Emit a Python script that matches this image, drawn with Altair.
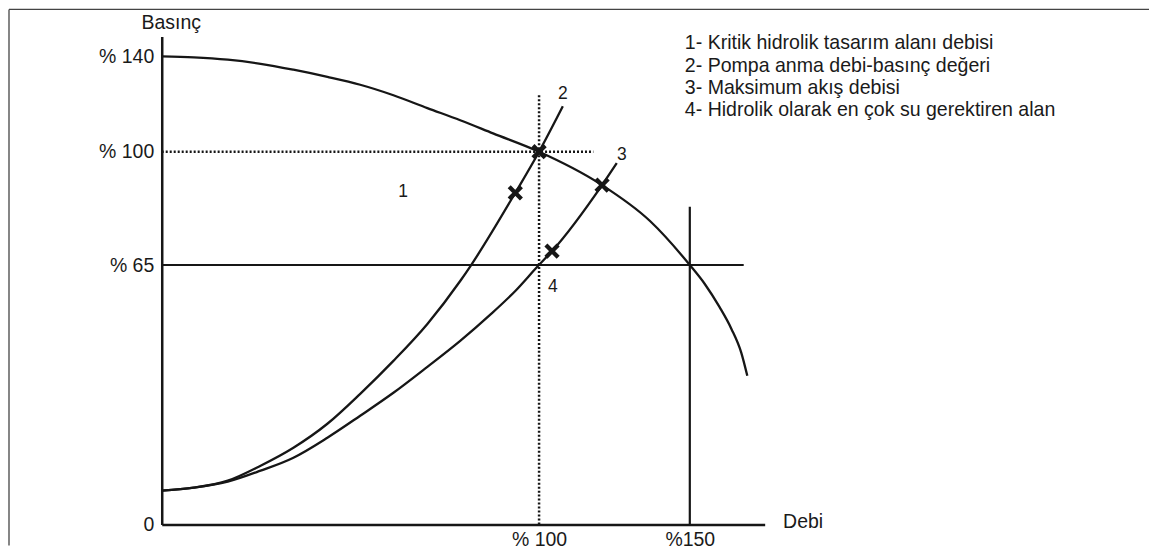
import altair as alt
import pandas as pd

FONT = "Liberation Sans"
INK = "#161616"
TXT = "#1a1a1a"

# Pump characteristic curve (flow %, pressure %)
PUMP_X = [0, 8.5, 17.5, 26.2, 34.9, 43.9, 52.6, 61.4, 70.4, 79.1, 87.8, 100,
          120.2, 136.8, 150, 155.0, 159.9, 163.9, 167.2, 169.2]
PUMP_Y = [140, 139.6, 138.6, 136.9, 134.4, 131.4, 128.1, 123.7, 118.3, 113.2, 107.7, 100,
          90.1, 78.6, 65, 60.25, 54.5, 49.0, 43.0, 37.25]

# System curve through the rated point (2)
SYS_A_X = [0, 8.5, 17.5, 26.2, 34.9, 43.9, 52.6, 61.4, 70.4, 79.1, 82.0, 93.7, 100, 107.9]
SYS_A_Y = [8.5, 9.25, 11.0, 14.75, 19.25, 25.25, 32.75, 41.0, 50.25, 61.0, 65, 87.3, 100, 119.1]

# System curve of the most demanding area (4)
SYS_B_X = [0, 8.5, 17.5, 26.2, 34.9, 43.9, 52.6, 61.4, 70.4, 79.1, 87.0, 93.7, 99.7,
           104.3, 120.9, 125.8]
SYS_B_Y = [8.5, 9.25, 10.75, 13.5, 16.75, 21.75, 27.25, 33.0, 39.5, 46.0, 52.5, 58.5, 64.75,
           69.3, 89.7, 96.5]

# Marked points (x markers)
MARK_X = [100, 93.7, 104.3, 120.9]
MARK_Y = [100, 87.3, 69.3, 89.7]

# Number labels
LABEL_TEXT = ["1", "2", "3", "4"]
LABEL_X = [64.0, 107.9, 127.5, 104.6]
LABEL_Y = [87.5, 124.3, 99.1, 59.4]

# Reference lines: (x, x2, y, y2)
DOTTED_X = [0, 100]
DOTTED_X2 = [118, 100]
DOTTED_Y = [100, 0]
DOTTED_Y2 = [100, 124]
SOLID_X = [0, 150]
SOLID_X2 = [168, 150]
SOLID_Y = [65, 0]
SOLID_Y2 = [65, 83]

# Axes
Y_TICKS = [0, 65, 100, 140]
X_TICKS = [100, 150]

LEGEND_LINES = [
    "1- Kritik hidrolik tasarım alanı debisi",
    "2- Pompa anma debi-basınç değeri",
    "3- Maksimum akış debisi",
    "4- Hidrolik olarak en çok su gerektiren alan",
]

W, H = 604, 489

# schematic (piecewise) axes, as in the drawing
xs = alt.Scale(domain=[0, 100, 150, 175], range=[0, 378, 529, W], nice=False, zero=False)
ys = alt.Scale(domain=[0, 65, 100, 140, 148], range=[H, 229, 115.5, 20, 0], nice=False, zero=False)

curves = pd.concat([
    pd.DataFrame({"x": PUMP_X, "y": PUMP_Y, "c": "pump", "o": range(len(PUMP_X))}),
    pd.DataFrame({"x": SYS_A_X, "y": SYS_A_Y, "c": "a", "o": range(len(SYS_A_X))}),
    pd.DataFrame({"x": SYS_B_X, "y": SYS_B_Y, "c": "b", "o": range(len(SYS_B_X))}),
])

x_axis = alt.Axis(
    values=X_TICKS,
    labelExpr="datum.value == 100 ? '% 100' : '%' + datum.value",
    ticks=False, grid=False,
    domainColor=INK, domainWidth=2.5,
    labelFont=FONT, labelFontSize=19.5, labelColor=TXT, labelPadding=6,
    labelFlush=False, labelOverlap=False,
    title="Debi", titleFont=FONT, titleFontSize=19.5, titleFontWeight="normal",
    titleColor=TXT, titleX=642, titleY=-3, titleAlign="center", titleBaseline="middle",
)
y_axis = alt.Axis(
    values=Y_TICKS,
    labelExpr="datum.value == 0 ? '0' : '% ' + datum.value",
    ticks=False, grid=False,
    domainColor=INK, domainWidth=2.5,
    labelFont=FONT, labelFontSize=19.5, labelColor=TXT, labelPadding=8,
    labelFlush=False, labelOverlap=False,
    title="Basınç", titleFont=FONT, titleFontSize=19.5, titleFontWeight="normal",
    titleColor=TXT, titleAngle=0, titleX=9, titleY=-14, titleAlign="center",
    titleBaseline="middle",
)

curve_layer = alt.Chart(curves).mark_line(
    color=INK, strokeWidth=2.3, interpolate="monotone"
).encode(
    x=alt.X("x:Q", scale=xs, axis=x_axis),
    y=alt.Y("y:Q", scale=ys, axis=y_axis),
    detail="c:N",
    order="o:Q",
)

dotted = alt.Chart(pd.DataFrame({"x": DOTTED_X, "x2": DOTTED_X2, "y": DOTTED_Y, "y2": DOTTED_Y2})).mark_rule(
    color=INK, strokeWidth=2.5, strokeDash=[2, 2]
).encode(
    x=alt.X("x:Q", scale=xs), x2="x2:Q",
    y=alt.Y("y:Q", scale=ys), y2="y2:Q",
)

solid = alt.Chart(pd.DataFrame({"x": SOLID_X, "x2": SOLID_X2, "y": SOLID_Y, "y2": SOLID_Y2})).mark_rule(
    color=INK, strokeWidth=2.2
).encode(
    x=alt.X("x:Q", scale=xs), x2="x2:Q",
    y=alt.Y("y:Q", scale=ys), y2="y2:Q",
)

marks = alt.Chart(pd.DataFrame({"x": MARK_X, "y": MARK_Y})).mark_point(
    shape="M-1,-1L1,1M-1,1L1,-1", filled=False, color=INK, strokeWidth=4.3, size=150, opacity=1
).encode(
    x=alt.X("x:Q", scale=xs),
    y=alt.Y("y:Q", scale=ys),
)

labels = alt.Chart(pd.DataFrame({"t": LABEL_TEXT, "x": LABEL_X, "y": LABEL_Y})).mark_text(
    font=FONT, fontSize=17.5, color=TXT, align="center", baseline="middle"
).encode(
    x=alt.X("x:Q", scale=xs),
    y=alt.Y("y:Q", scale=ys),
    text="t:N",
)

legend = alt.Chart(pd.DataFrame({"t": ["\n".join(LEGEND_LINES)]})).mark_text(
    font=FONT, fontSize=19.6, color=TXT, align="left", baseline="top",
    lineBreak="\n", lineHeight=22.3,
).encode(
    x=alt.value(524),
    y=alt.value(-2),
    text="t:N",
)

# outer frame (top and left edges, as in the picture)
frame_top = alt.Chart(pd.DataFrame({"k": [0]})).mark_rule(color="#444", strokeWidth=1.3).encode(
    x=alt.value(-153), x2=alt.value(989), y=alt.value(-27)
)
frame_left = alt.Chart(pd.DataFrame({"k": [0]})).mark_rule(color="#444", strokeWidth=1.3).encode(
    x=alt.value(-153), y=alt.value(-27), y2=alt.value(510)
)

chart = alt.layer(
    frame_top, frame_left, dotted, solid, curve_layer, marks, labels, legend
).properties(
    width=W, height=H, padding=0, background="white"
).configure_view(stroke=None)

chart.save("out.html", embed_options={"renderer": "svg", "actions": False})
